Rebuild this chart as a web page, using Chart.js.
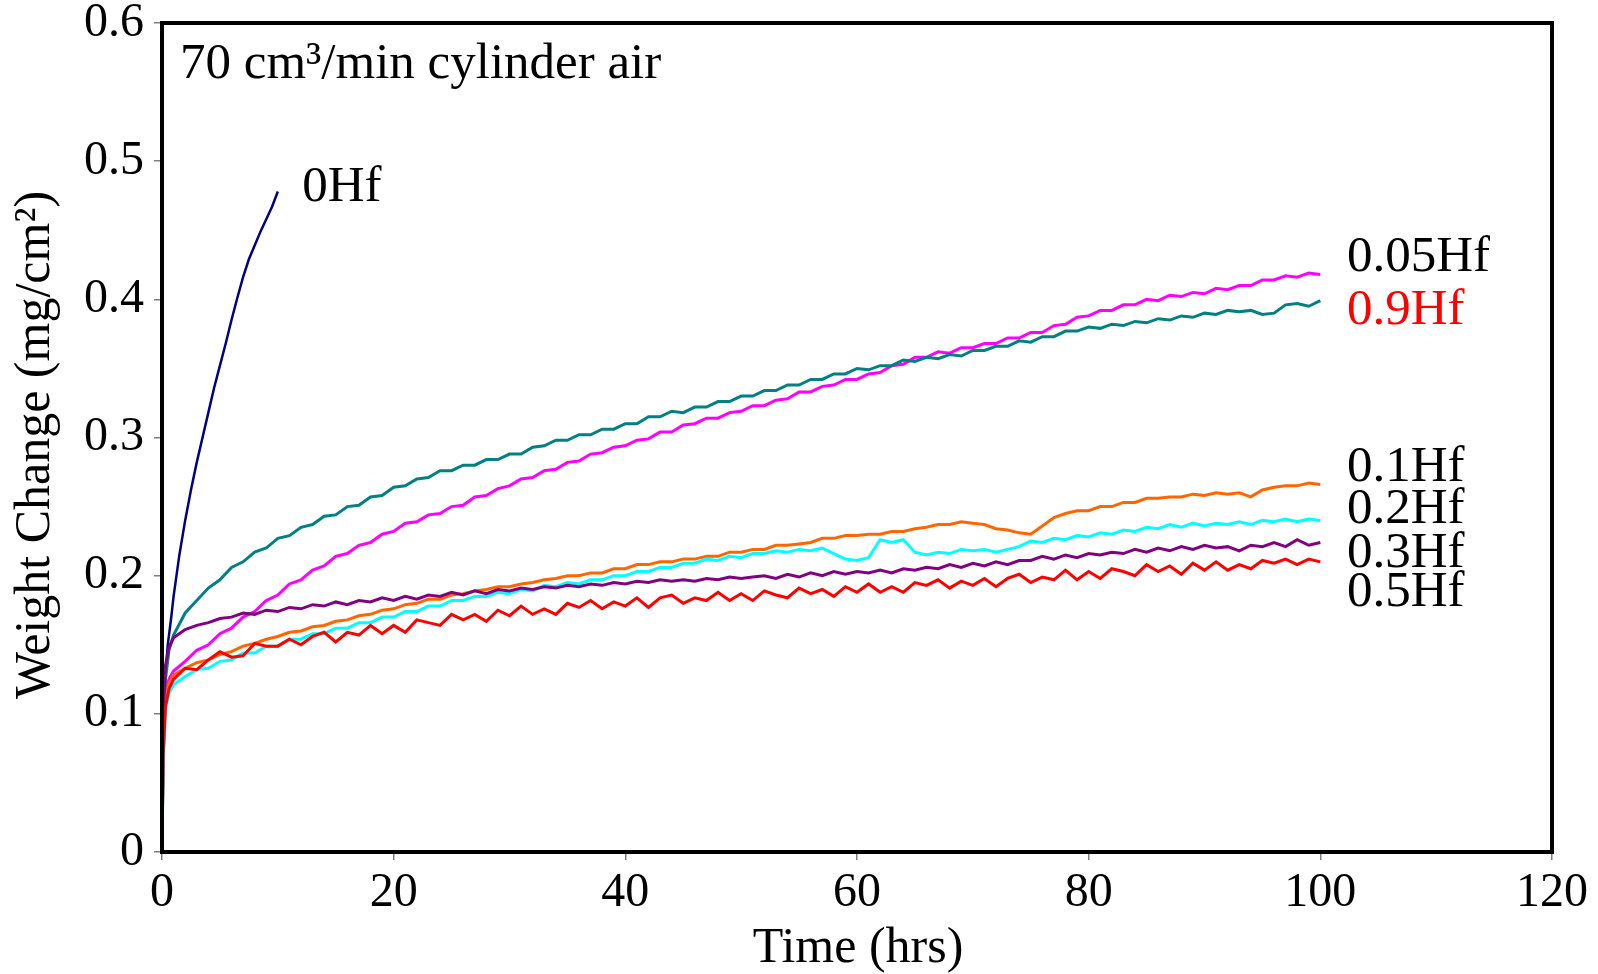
<!DOCTYPE html>
<html>
<head>
<meta charset="utf-8">
<script src="https://cdn.jsdelivr.net/npm/chart.js@4"></script>
<style>
  html, body { margin: 0; padding: 0; background: #fff; }
  canvas { display: block; }
</style>
</head>
<body>
<canvas id="c" width="1598" height="974"></canvas>
<script>
// time axis (hrs) shared by the 100 h runs
var hours = [0, 0.1, 0.3, 0.6, 1,
  2, 3, 4, 5, 6, 7, 8, 9, 10,
  11, 12, 13, 14, 15, 16, 17, 18, 19, 20,
  21, 22, 23, 24, 25, 26, 27, 28, 29, 30,
  31, 32, 33, 34, 35, 36, 37, 38, 39, 40,
  41, 42, 43, 44, 45, 46, 47, 48, 49, 50,
  51, 52, 53, 54, 55, 56, 57, 58, 59, 60,
  61, 62, 63, 64, 65, 66, 67, 68, 69, 70,
  71, 72, 73, 74, 75, 76, 77, 78, 79, 80,
  81, 82, 83, 84, 85, 86, 87, 88, 89, 90,
  91, 92, 93, 94, 95, 96, 97, 98, 99, 100];

// 0Hf only ran for 10 h
var hours0Hf = [0, 0.1, 0.2, 0.3, 0.5, 0.8, 1, 1.5, 2, 2.5, 3, 3.5, 4, 4.5, 5,
  5.5, 6, 6.5, 7, 7.5, 8, 8.5, 9, 9.5, 10];
var hf0 = [0, 0.06, 0.10, 0.128, 0.150, 0.170, 0.185, 0.215, 0.240, 0.262, 0.282, 0.300, 0.318, 0.336, 0.352,
  0.368, 0.385, 0.401, 0.416, 0.429, 0.439, 0.449, 0.458, 0.467, 0.478];

// weight change (mg/cm2)
var hf09 = [0, 0.090, 0.125, 0.146, 0.157,
  0.173, 0.182, 0.191, 0.197, 0.206, 0.210, 0.217, 0.220, 0.227,
  0.229, 0.235, 0.237, 0.243, 0.244, 0.250, 0.251, 0.257, 0.258, 0.264,
  0.265, 0.270, 0.271, 0.276, 0.276, 0.280, 0.280, 0.284, 0.284, 0.288,
  0.288, 0.293, 0.294, 0.298, 0.298, 0.302, 0.302, 0.306, 0.306, 0.310,
  0.310, 0.315, 0.315, 0.319, 0.318, 0.322, 0.322, 0.326, 0.326, 0.330,
  0.330, 0.334, 0.334, 0.338, 0.338, 0.342, 0.342, 0.346, 0.346, 0.350,
  0.349, 0.352, 0.352, 0.356, 0.355, 0.358, 0.357, 0.360, 0.359, 0.363,
  0.363, 0.366, 0.366, 0.370, 0.369, 0.373, 0.373, 0.377, 0.377, 0.380,
  0.379, 0.382, 0.381, 0.384, 0.383, 0.386, 0.385, 0.388, 0.387, 0.390,
  0.389, 0.392, 0.391, 0.392, 0.389, 0.390, 0.396, 0.397, 0.395, 0.399];

var hf005 = [0, 0.080, 0.115, 0.125, 0.131,
  0.138, 0.146, 0.150, 0.158, 0.162, 0.170, 0.174, 0.182, 0.186,
  0.194, 0.197, 0.204, 0.207, 0.214, 0.216, 0.222, 0.224, 0.230, 0.232,
  0.238, 0.239, 0.244, 0.245, 0.250, 0.251, 0.257, 0.258, 0.263, 0.265,
  0.270, 0.271, 0.276, 0.277, 0.282, 0.283, 0.288, 0.289, 0.293, 0.294,
  0.298, 0.299, 0.304, 0.304, 0.309, 0.310, 0.314, 0.314, 0.318, 0.319,
  0.323, 0.323, 0.327, 0.328, 0.333, 0.333, 0.337, 0.338, 0.342, 0.342,
  0.346, 0.347, 0.352, 0.353, 0.358, 0.358, 0.362, 0.361, 0.365, 0.365,
  0.368, 0.368, 0.372, 0.372, 0.376, 0.376, 0.381, 0.382, 0.387, 0.388,
  0.392, 0.392, 0.396, 0.396, 0.400, 0.399, 0.403, 0.402, 0.405, 0.404,
  0.408, 0.407, 0.410, 0.410, 0.414, 0.414, 0.417, 0.416, 0.419, 0.418];

var hf01 = [0, 0.070, 0.110, 0.122, 0.128,
  0.133, 0.137, 0.139, 0.143, 0.145, 0.149, 0.151, 0.154, 0.156,
  0.159, 0.160, 0.163, 0.164, 0.167, 0.168, 0.171, 0.172, 0.175, 0.176,
  0.179, 0.180, 0.183, 0.183, 0.186, 0.187, 0.189, 0.190, 0.192, 0.192,
  0.194, 0.195, 0.197, 0.198, 0.200, 0.200, 0.202, 0.202, 0.205, 0.205,
  0.208, 0.208, 0.210, 0.210, 0.212, 0.212, 0.214, 0.214, 0.217, 0.217,
  0.219, 0.219, 0.222, 0.222, 0.223, 0.224, 0.227, 0.227, 0.229, 0.229,
  0.230, 0.230, 0.232, 0.232, 0.234, 0.235, 0.237, 0.237, 0.239, 0.238,
  0.237, 0.234, 0.233, 0.231, 0.230, 0.236, 0.242, 0.245, 0.247, 0.247,
  0.250, 0.250, 0.253, 0.253, 0.256, 0.256, 0.257, 0.257, 0.259, 0.258,
  0.260, 0.259, 0.260, 0.257, 0.262, 0.264, 0.265, 0.265, 0.267, 0.266];

var hf02 = [0, 0.060, 0.105, 0.115, 0.121,
  0.127, 0.132, 0.133, 0.138, 0.139, 0.144, 0.144, 0.149, 0.149,
  0.154, 0.154, 0.158, 0.158, 0.162, 0.162, 0.166, 0.166, 0.170, 0.170,
  0.174, 0.174, 0.178, 0.178, 0.182, 0.182, 0.185, 0.185, 0.188, 0.187,
  0.190, 0.189, 0.193, 0.192, 0.195, 0.194, 0.197, 0.197, 0.200, 0.200,
  0.203, 0.203, 0.206, 0.206, 0.209, 0.209, 0.212, 0.211, 0.214, 0.213,
  0.216, 0.216, 0.218, 0.217, 0.219, 0.218, 0.220, 0.216, 0.212, 0.211,
  0.213, 0.226, 0.224, 0.226, 0.217, 0.215, 0.217, 0.216, 0.219, 0.218,
  0.219, 0.217, 0.219, 0.221, 0.225, 0.224, 0.227, 0.226, 0.229, 0.228,
  0.231, 0.230, 0.233, 0.232, 0.235, 0.234, 0.237, 0.235, 0.238, 0.236,
  0.238, 0.237, 0.239, 0.237, 0.240, 0.239, 0.241, 0.239, 0.241, 0.240];

var hf03 = [0, 0.100, 0.135, 0.148, 0.155,
  0.161, 0.164, 0.166, 0.169, 0.170, 0.173, 0.172, 0.175, 0.174,
  0.177, 0.176, 0.179, 0.178, 0.181, 0.179, 0.182, 0.181, 0.184, 0.182,
  0.185, 0.183, 0.186, 0.185, 0.188, 0.186, 0.189, 0.187, 0.190, 0.189,
  0.191, 0.190, 0.192, 0.191, 0.193, 0.192, 0.194, 0.193, 0.195, 0.194,
  0.196, 0.195, 0.197, 0.196, 0.197, 0.196, 0.198, 0.197, 0.199, 0.198,
  0.199, 0.200, 0.198, 0.201, 0.199, 0.202, 0.200, 0.203, 0.201, 0.203,
  0.202, 0.204, 0.202, 0.205, 0.204, 0.206, 0.205, 0.208, 0.206, 0.209,
  0.207, 0.210, 0.208, 0.211, 0.211, 0.214, 0.212, 0.215, 0.213, 0.216,
  0.215, 0.217, 0.216, 0.219, 0.217, 0.220, 0.218, 0.221, 0.219, 0.222,
  0.220, 0.221, 0.218, 0.222, 0.221, 0.224, 0.221, 0.226, 0.222, 0.224];

var hf05 = [0, 0.070, 0.105, 0.118, 0.125,
  0.133, 0.132, 0.139, 0.145, 0.141, 0.142, 0.151, 0.149, 0.149,
  0.154, 0.150, 0.156, 0.159, 0.152, 0.159, 0.157, 0.164, 0.158, 0.164,
  0.159, 0.168, 0.166, 0.164, 0.172, 0.168, 0.172, 0.167, 0.175, 0.171,
  0.178, 0.172, 0.176, 0.172, 0.180, 0.177, 0.182, 0.176, 0.181, 0.178,
  0.184, 0.177, 0.184, 0.186, 0.180, 0.184, 0.182, 0.188, 0.182, 0.187,
  0.182, 0.189, 0.186, 0.184, 0.191, 0.187, 0.190, 0.185, 0.192, 0.188,
  0.194, 0.188, 0.192, 0.188, 0.195, 0.193, 0.197, 0.191, 0.196, 0.193,
  0.198, 0.192, 0.198, 0.201, 0.195, 0.199, 0.197, 0.204, 0.197, 0.203,
  0.198, 0.205, 0.203, 0.200, 0.208, 0.203, 0.207, 0.201, 0.209, 0.204,
  0.210, 0.204, 0.208, 0.205, 0.211, 0.209, 0.212, 0.208, 0.212, 0.210];

var xTickLabels = ['0', '20', '40', '60', '80', '100', '120'];
var yTickLabels = ['0', '0.1', '0.2', '0.3', '0.4', '0.5', '0.6'];

// curve labels at the right-hand end, as in the figure
var curveNames = ['0Hf', '0.05Hf', '0.9Hf', '0.1Hf', '0.2Hf', '0.3Hf', '0.5Hf'];
var curveNameColors = ['#000', '#000', '#ff0000', '#000', '#000', '#000', '#000'];
var nameAt = [[12.1, 0.481], [102.3, 0.430], [102.3, 0.392], [102.3, 0.278],
  [102.3, 0.248], [102.3, 0.216], [102.3, 0.188]];

function pts(xs, ys) {
  return ys.map(function (y, i) { return { x: xs[i], y: y }; });
}

var serif = '"Liberation Serif", "Times New Roman", serif';

var decorations = {
  id: 'decorations',
  afterDatasetsDraw: function (chart) {
    var ctx = chart.ctx;
    var a = chart.chartArea;
    var xs = chart.scales.x, ys = chart.scales.y;
    ctx.save();

    // frame
    ctx.strokeStyle = '#000';
    ctx.lineWidth = 4;
    ctx.strokeRect(a.left, a.top, a.right - a.left, a.bottom - a.top);

    // title inside plot
    ctx.fillStyle = '#000';
    ctx.font = '51px ' + serif;
    ctx.textAlign = 'left';
    ctx.textBaseline = 'alphabetic';
    ctx.fillText('70 cm\u00B3/min cylinder air', 180, 78);

    // curve names
    ctx.font = '51px ' + serif;
    ctx.textBaseline = 'middle';
    for (var i = 0; i < curveNames.length; i++) {
      ctx.fillStyle = curveNameColors[i];
      ctx.fillText(curveNames[i], xs.getPixelForValue(nameAt[i][0]), ys.getPixelForValue(nameAt[i][1]));
    }

    // axis titles
    ctx.fillStyle = '#000';
    ctx.font = '50px ' + serif;
    ctx.textAlign = 'center';
    ctx.textBaseline = 'alphabetic';
    ctx.fillText('Time (hrs)', (a.left + a.right) / 2 + 1, 962);

    ctx.translate(36, 445);
    ctx.rotate(-Math.PI / 2);
    ctx.textBaseline = 'middle';
    ctx.fillText('Weight Change (mg/cm\u00B2)', 0, 0);
    ctx.restore();
  }
};

new Chart(document.getElementById('c'), {
  type: 'line',
  data: {
    datasets: [
      { label: '0.5Hf', data: pts(hours, hf05), borderColor: '#ff0000', borderWidth: 3 },
      { label: '0.3Hf', data: pts(hours, hf03), borderColor: '#800080', borderWidth: 3 },
      { label: '0.2Hf', data: pts(hours, hf02), borderColor: '#00ffff', borderWidth: 3 },
      { label: '0.1Hf', data: pts(hours, hf01), borderColor: '#ff6600', borderWidth: 3 },
      { label: '0.9Hf', data: pts(hours, hf09), borderColor: '#008080', borderWidth: 3 },
      { label: '0.05Hf', data: pts(hours, hf005), borderColor: '#ff00ff', borderWidth: 3 },
      { label: '0Hf', data: pts(hours0Hf, hf0), borderColor: '#000080', borderWidth: 2.5 }
    ]
  },
  options: {
    responsive: false,
    animation: false,
    devicePixelRatio: 1,
    elements: { point: { radius: 0 }, line: { tension: 0, fill: false } },
    layout: { padding: { top: 23, right: 46, left: 0, bottom: 0 } },
    plugins: { legend: { display: false }, tooltip: { enabled: false } },
    scales: {
      x: {
        type: 'linear', min: 0, max: 120,
        border: { display: false },
        grid: { drawOnChartArea: false, drawTicks: true, tickLength: 8, color: '#808080', lineWidth: 1.5 },
        ticks: {
          stepSize: 20, padding: 9, color: '#000', maxRotation: 0,
          font: { family: serif, size: 48, lineHeight: 1 },
          callback: function (v, i) { return xTickLabels[i]; }
        },
        afterFit: function (s) { s.height = 122; s.paddingLeft = 0; s.paddingRight = 0; }
      },
      y: {
        type: 'linear', min: 0, max: 0.6,
        border: { display: false },
        grid: { drawOnChartArea: false, drawTicks: true, tickLength: 8, color: '#808080', lineWidth: 1.5 },
        ticks: {
          stepSize: 0.1, padding: 10, color: '#000',
          font: { family: serif, size: 48, lineHeight: 1 },
          callback: function (v, i) { return yTickLabels[i]; }
        },
        afterFit: function (s) { s.width = 162; s.paddingTop = 0; s.paddingBottom = 0; }
      }
    }
  },
  plugins: [decorations]
});
</script>
</body>
</html>
